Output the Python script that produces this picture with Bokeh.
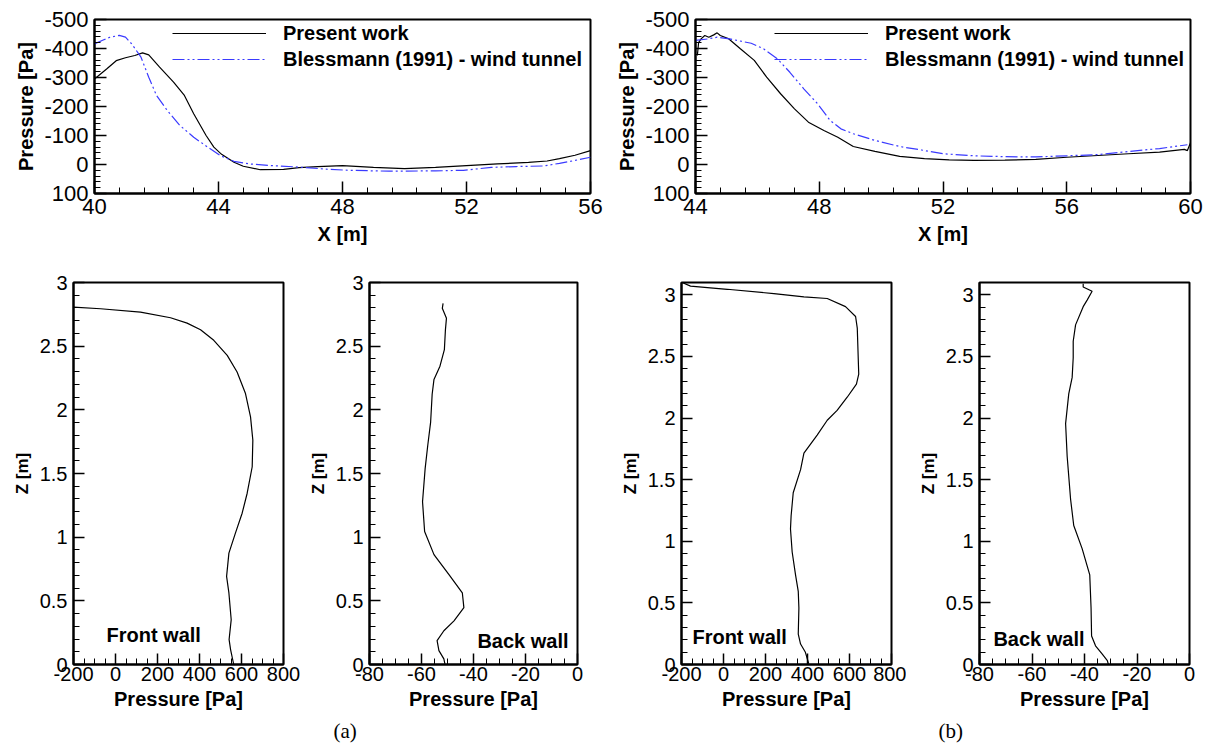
import numpy as np
from bokeh.plotting import figure
from bokeh.models import (Range1d, FixedTicker, Legend, LegendItem, Label, Title,
                          CustomJSTickFormatter)
from bokeh.layouts import column, row
from bokeh.embed import file_html
from bokeh.resources import INLINE

FONT = "Liberation Sans"
BLUE = "#3a3aff"
DASH = "12 3 2 3 2 3"

# ---------------- data: top (a) ----------------
ta_present_x = [40.0, 40.4, 40.7, 41.0, 41.3, 41.55, 41.75, 42.1, 42.55, 42.9, 43.2, 43.6,
                43.85, 44.1, 44.5, 44.8, 45.35, 46.1, 46.6, 47.2, 48.0, 49.0, 50.0, 51.0,
                52.0, 53.0, 54.0, 54.6, 55.0, 55.5, 56.0]
ta_present_p = [-295, -330, -358, -368, -376, -385, -378, -336, -284, -238, -175, -100,
                -60, -35, -8, 6, 18, 17, 11, 7, 4, 10, 14, 10,
                4, -2, -7, -12, -20, -32, -48]
ta_bless_x = [40.0, 40.3, 40.5, 40.8, 41.0, 41.2, 41.5, 41.75, 42.0, 42.35, 42.75, 43.2,
              43.65, 44.05, 44.5, 45.0, 45.6, 46.6, 47.6, 48.2, 49.5, 51.0, 51.9, 52.8,
              53.6, 54.5, 55.0, 55.5, 56.0]
ta_bless_p = [-416, -430, -439, -445, -439, -416, -370, -301, -238, -186, -135, -94,
              -60, -31, -11, -2, 3, 9, 17, 20, 23, 22, 20, 10,
              7, 5, -4, -14, -25]

# ---------------- data: top (b) ----------------
tb_present_x = [44.06, 44.1, 44.18, 44.3, 44.43, 44.59, 44.7, 44.8, 45.08, 45.45, 45.9,
                46.3, 46.75, 47.2, 47.65, 48.15, 48.6, 49.1, 49.8, 50.6, 51.4, 52.2, 53.0,
                54.0, 55.0, 56.0, 57.0, 58.0, 59.0, 59.8, 59.9, 60.0]
tb_present_p = [-376, -420, -433, -445, -439, -447, -454, -445, -433, -399, -359,
                -301, -244, -192, -146, -117, -94, -62, -45, -28, -20, -16, -14,
                -15, -18, -25, -31, -37, -43, -52, -48, -75]
tb_bless_x = [44.0, 44.4, 44.7, 45.1, 45.8, 46.2, 46.65, 47.05, 47.5, 47.95, 48.35, 48.7,
              49.1, 49.8, 50.6, 51.3, 52.0, 53.0, 54.0, 55.0, 56.0, 57.0, 58.0, 59.0, 59.9]
tb_bless_p = [-428, -433, -439, -433, -418, -399, -364, -318, -261, -209, -152, -123,
              -106, -83, -62, -50, -37, -30, -27, -26, -30, -34, -45, -55, -68]

# ---------------- data: walls (a) ----------------
fa_p = [-200, -71, 119, 262, 341, 405, 468, 532, 579, 619, 643, 654, 651, 627, 603, 571,
        540, 529, 540, 551, 541, 548, 563]
fa_z = [2.806, 2.794, 2.768, 2.723, 2.681, 2.629, 2.546, 2.428, 2.297, 2.128, 1.945, 1.762,
        1.553, 1.345, 1.188, 1.032, 0.875, 0.692, 0.562, 0.352, 0.196, 0.117, 0.0]
ba_p = [-51.7, -52.0, -50.4, -50.8, -51.2, -52.9, -55.2, -55.9, -56.5, -57.6, -58.6, -59.6,
        -58.8, -55.2, -49.5, -44.3, -43.7, -47.5, -51.4, -54.0, -53.3, -51.4, -51.0]
ba_z = [2.836, 2.797, 2.72, 2.628, 2.473, 2.343, 2.239, 2.122, 1.901, 1.72, 1.538, 1.278,
        1.044, 0.863, 0.707, 0.563, 0.447, 0.343, 0.265, 0.187, 0.109, 0.044, 0.005]

# ---------------- data: walls (b) ----------------
fb_p = [-197, -157, 18, 240, 383, 494, 581, 629, 637, 644, 633, 589, 541, 494, 446, 383,
        367, 332, 322, 319, 327, 343, 356, 359, 356, 367, 390, 406]
fb_z = [3.1, 3.071, 3.045, 3.01, 2.984, 2.97, 2.904, 2.824, 2.73, 2.356, 2.276, 2.169,
        2.062, 1.982, 1.862, 1.715, 1.581, 1.394, 1.207, 1.1, 0.913, 0.727, 0.593, 0.459,
        0.246, 0.166, 0.099, 0.006]
bb_p = [-40.5, -40.5, -37.1, -39.0, -40.5, -43.4, -44.3, -44.3, -44.7, -46.0, -47.2, -46.6,
        -45.3, -44.1, -40.9, -38.0, -37.5, -37.3, -35.8, -33.3, -31.3, -30.9]
bb_z = [3.09, 3.063, 3.029, 2.957, 2.904, 2.756, 2.623, 2.49, 2.33, 2.196, 1.955, 1.688,
        1.341, 1.128, 0.94, 0.727, 0.459, 0.232, 0.152, 0.086, 0.032, 0.0]

# ---------------- ticks ----------------
top_y_ticks = [-500, -400, -300, -200, -100, 0, 100]
ta_x_ticks = [40, 44, 48, 52, 56]
tb_x_ticks = [44, 48, 52, 56, 60]
wall_z_ticks = [0, 0.5, 1, 1.5, 2, 2.5, 3]
front_p_ticks = [-200, 0, 200, 400, 600, 800]
back_p_ticks = [-80, -60, -40, -20, 0]

FMT = "return tick.toString();"


def minor(lo, hi, step):
    n = int(round((hi - lo) / step))
    return [round(lo + i * step, 6) for i in range(n + 1)]


def make_fig(width, height, ml, mr, mt, mb, xr, yr, xt, xm, yt, ym, xlabel, ylabel,
             tick_fs, xl_fs, yl_fs, maj, mnr, x_std, y_std, xl_std, yl_std):
    p = figure(width=width, height=height, x_range=Range1d(*xr), y_range=Range1d(*yr),
               output_backend="svg", toolbar_location=None,
               min_border_left=ml, min_border_right=mr, min_border_top=mt,
               min_border_bottom=mb)
    p.grid.visible = False
    p.outline_line_color = "black"
    p.outline_line_width = 2
    p.outline_line_alpha = 1
    p.background_fill_color = "white"
    p.border_fill_color = "white"
    specs = [(p.xaxis[0], xt, xm, xlabel, xl_fs, x_std, xl_std),
             (p.yaxis[0], yt, ym, ylabel, yl_fs, y_std, yl_std)]
    for ax, t, m, lab, lfs, std, lstd in specs:
        ax.ticker = FixedTicker(ticks=t, minor_ticks=m)
        ax.formatter = CustomJSTickFormatter(code=FMT)
        ax.axis_label = lab
        ax.axis_label_text_font = FONT
        ax.axis_label_text_font_style = "bold"
        ax.axis_label_text_font_size = lfs
        ax.axis_label_text_color = "black"
        ax.axis_label_standoff = lstd
        ax.major_label_text_font = FONT
        ax.major_label_text_font_size = tick_fs
        ax.major_label_text_color = "black"
        ax.major_label_standoff = std
        ax.axis_line_color = "black"
        ax.axis_line_width = 2
        ax.major_tick_line_color = "black"
        ax.major_tick_line_width = 1.5
        ax.minor_tick_line_color = "black"
        ax.minor_tick_line_width = 1
        ax.major_tick_in = maj
        ax.major_tick_out = 0
        ax.minor_tick_in = mnr
        ax.minor_tick_out = 0
    return p


def add_legend(p, r1, r2, loc):
    leg = Legend(items=[LegendItem(label="Present work", renderers=[r1]),
                        LegendItem(label="Blessmann (1991) - wind tunnel", renderers=[r2])],
                 location=loc)
    leg.label_text_font = FONT
    leg.label_text_font_style = "bold"
    leg.label_text_font_size = "20px"
    leg.label_text_color = "black"
    leg.glyph_width = 94
    leg.glyph_height = 26
    leg.label_height = 26
    leg.label_standoff = 17
    leg.spacing = 0
    leg.padding = 0
    leg.margin = 0
    leg.border_line_alpha = 0
    leg.background_fill_alpha = 0
    p.add_layout(leg)


def wall_label(p, x, y, text):
    p.add_layout(Label(x=x, y=y, text=text, text_font=FONT, text_font_size="20px",
                       text_font_style="bold", text_baseline="middle",
                       text_align="left", text_color="black"))


def panel_title(p, text, offset):
    p.add_layout(Title(text=text, align="left", offset=offset, standoff=9,
                       text_font="Liberation Serif", text_font_size="21px",
                       text_font_style="normal", text_color="black"), "below")


# ---------------- top (a) ----------------
ta = make_fig(610, 258, 94, 20, 19, 65, (40, 56), (100, -500),
              ta_x_ticks, minor(40, 56, 0.8), top_y_ticks, minor(-500, 100, 20),
              "X [m]", "Pressure [Pa]", "22px", "20px", "20px", 12, 6, 5, 6, 6, 4)
r1 = ta.line(ta_present_x, ta_present_p, line_color="black", line_width=1.2)
r2 = ta.line(ta_bless_x, ta_bless_p, line_color=BLUE, line_width=1.2, line_dash=DASH)
add_legend(ta, r1, r2, (78, 121))

# ---------------- top (b) ----------------
tb = make_fig(598, 258, 85, 18, 19, 65, (44, 60), (100, -500),
              tb_x_ticks, minor(44, 60, 0.8), top_y_ticks, minor(-500, 100, 20),
              "X [m]", "Pressure [Pa]", "22px", "20px", "20px", 12, 6, 5, 6, 6, 4)
r1 = tb.line(tb_present_x, tb_present_p, line_color="black", line_width=1.2)
r2 = tb.line(tb_bless_x, tb_bless_p, line_color=BLUE, line_width=1.2, line_dash=DASH)
add_legend(tb, r1, r2, (79, 121))

# ---------------- walls (a) ----------------
fa = make_fig(300, 493, 73, 17, 24, 87, (-200, 800), (0, 3),
              front_p_ticks, minor(-200, 800, 50), wall_z_ticks, minor(0, 3, 0.1),
              "Pressure [Pa]", "Z [m]", "20px", "20px", "17px", 11, 6, 2, 6, 4, 5)
fa.line(fa_p, fa_z, line_color="black", line_width=1.2)
wall_label(fa, -43, 0.235, "Front wall")

ba = make_fig(300, 493, 69, 23, 21, 87, (-80, 0), (0, 3),
              back_p_ticks, minor(-80, 0, 5), wall_z_ticks, minor(0, 3, 0.1),
              "Pressure [Pa]", "Z [m]", "20px", "20px", "17px", 11, 6, 2, 6, 4, 5)
ba.line(ba_p, ba_z, line_color="black", line_width=1.2)
wall_label(ba, -38.5, 0.187, "Back wall")
panel_title(ba, "(a)", -36)

# ---------------- walls (b) ----------------
fb = make_fig(306, 493, 81, 15, 19, 87, (-200, 800), (0, 3.1),
              front_p_ticks, minor(-200, 800, 50), wall_z_ticks, minor(0, 3.1, 0.1),
              "Pressure [Pa]", "Z [m]", "20px", "20px", "17px", 11, 6, 2, 6, 4, 5)
fb.line(fb_p, fb_z, line_color="black", line_width=1.2)
wall_label(fb, -148, 0.224, "Front wall")

bb = make_fig(302, 493, 73, 19, 19, 87, (-80, 0), (0, 3.1),
              back_p_ticks, minor(-80, 0, 5), wall_z_ticks, minor(0, 3.1, 0.1),
              "Pressure [Pa]", "Z [m]", "20px", "20px", "17px", 11, 6, 2, 6, 4, 5)
bb.line(bb_p, bb_z, line_color="black", line_width=1.2)
wall_label(bb, -74.7, 0.21, "Back wall")
panel_title(bb, "(b)", -41)

layout = column(row(ta, tb), row(fa, ba, fb, bb))
open("out.html", "w").write(file_html(layout, INLINE))
